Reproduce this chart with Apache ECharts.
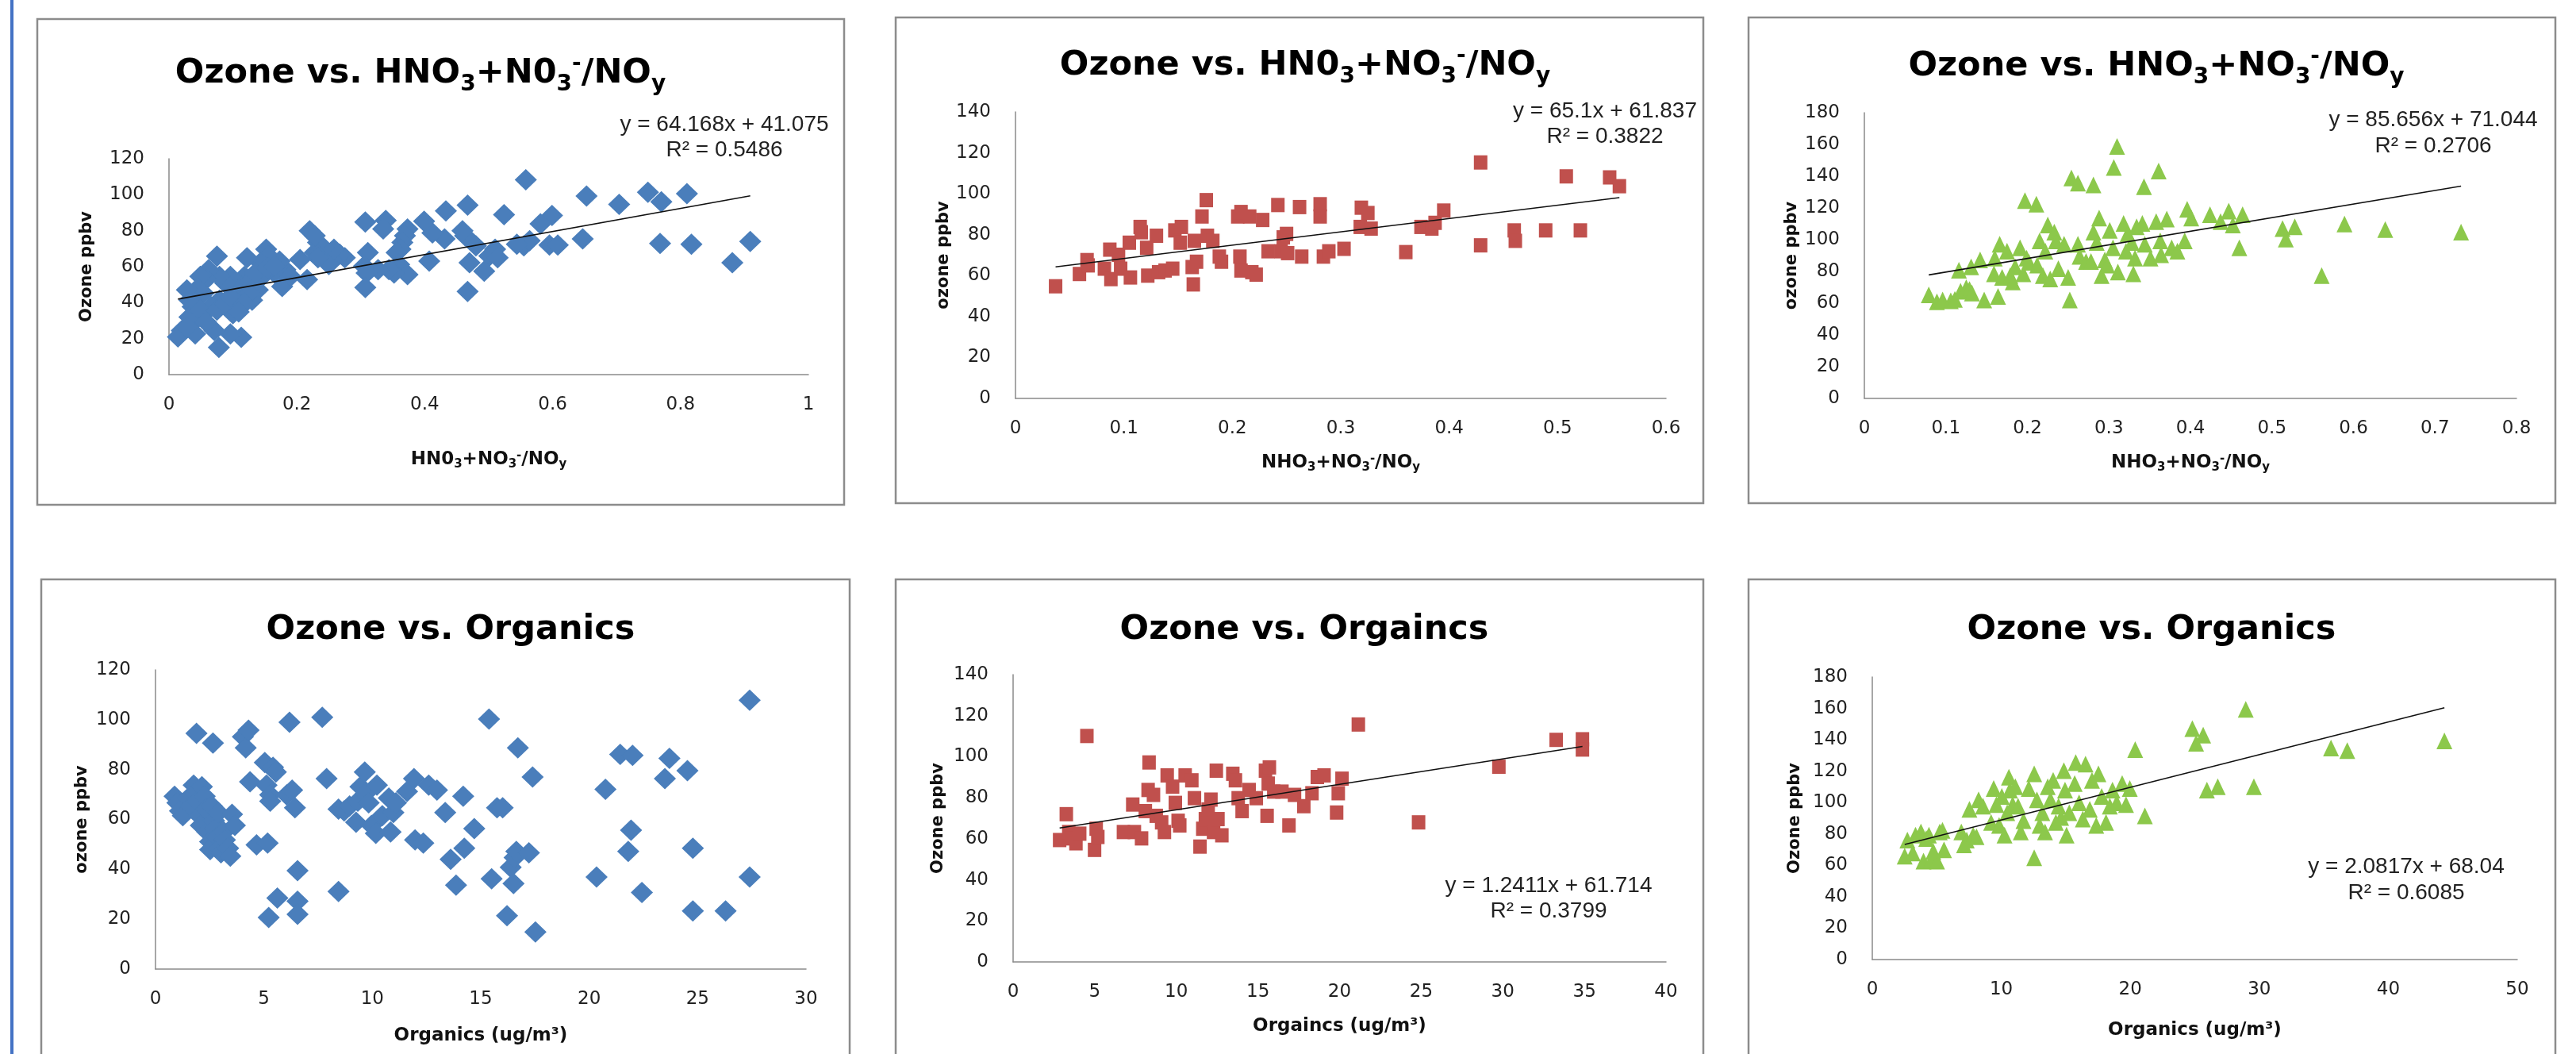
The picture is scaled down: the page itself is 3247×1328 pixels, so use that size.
<!DOCTYPE html>
<html>
<head>
<meta charset="utf-8">
<title>Ozone vs. nitrate fraction and organics</title>
<script src="https://cdn.jsdelivr.net/npm/echarts@6.0.0/dist/echarts.min.js"></script>
<style>
  html, body { margin: 0; padding: 0; background: #fff; }
  #chart { width: 3247px; height: 1328px; }
</style>
</head>
<body>
<div id="chart"></div>
<script>
// site 1 : ozone (ppbv) vs HNO3+NO3-/NOy
const nitrate1 = [
  [0.558,108.3],[0.653,99.3],[0.704,94.6],[0.749,101.4],[0.770,96.1],[0.810,100.6],[0.768,72.9],[0.817,72.5],
  [0.881,62.2],[0.909,74.0],[0.647,75.4],[0.599,88.5],[0.581,83.8],[0.595,72],[0.608,72],[0.555,71.6],
  [0.564,74.4],[0.544,72.5],[0.524,88.9],[0.51,69.7],[0.501,66],[0.514,65],[0.493,57.5],[0.467,94.2],
  [0.467,46.2],[0.470,62.2],[0.463,77.2],[0.459,80],[0.48,71.6],[0.433,91],[0.431,75.4],[0.412,78.8],
  [0.399,85.3],[0.407,63.1],[0.373,81],[0.369,77.2],[0.365,73.5],[0.362,69.7],[0.356,67.8],[0.36,61.2],
  [0.373,55.6],[0.352,56.5],[0.339,85.7],[0.335,81],[0.344,58.4],[0.327,58.4],[0.307,84.8],[0.311,67.8],
  [0.305,60.3],[0.309,56.5],[0.307,48.4],[0.275,65],[0.267,66.9],[0.254,64],[0.25,61.2],[0.258,69.7],
  [0.241,70.6],[0.233,73.5],[0.228,67.8],[0.22,80],[0.228,77.2],[0.233,65],[0.216,52.8],[0.205,64],
  [0.182,58.4],[0.173,63.1],[0.165,56.5],[0.177,49],[0.152,69.7],[0.156,66],[0.143,62.2],[0.146,54.6],
  [0.139,47.1],[0.13,41.4],[0.122,65],[0.118,54.6],[0.113,49],[0.109,43.3],[0.105,37.7],[0.113,20.7],
  [0.096,22.6],[0.1,33.9],[0.096,54.6],[0.088,50.9],[0.079,54.6],[0.079,41.4],[0.075,65.9],[0.078,15.1],
  [0.071,24.5],[0.066,37.7],[0.062,58.4],[0.058,52.8],[0.054,45.2],[0.049,54.6],[0.045,48],[0.041,30.1],
  [0.037,37.7],[0.032,41.4],[0.028,47.1],[0.032,32],[0.041,22.6],[0.02,24.5],[0.014,21],[0.028,26.4],
  [0.049,35.8],[0.058,29.2],[0.075,35.8],[0.088,39.6],[0.096,43.3],[0.126,51.8],[0.135,56.5],[0.154,59.3],
  [0.165,60.3],[0.126,45.2],[0.118,39.6],[0.109,34.9],[0.19,54.6]
];
// site 2
const nitrate2 = [
  [0.037,54.8],[0.059,60.8],[0.066,67.6],[0.067,65],[0.082,63.4],[0.087,72.7],[0.088,58.3],[0.095,70.2],
  [0.097,63.4],[0.105,76.1],[0.106,59.1],[0.115,83.8],[0.116,81.2],[0.121,73.6],[0.122,60],[0.13,79.5],
  [0.132,61.7],[0.138,62.5],[0.145,63.4],[0.147,82.1],[0.153,83.8],[0.152,76.1],[0.163,64.2],[0.164,55.7],
  [0.165,77],[0.167,66.8],[0.172,88.9],[0.176,96.9],[0.177,79.5],[0.182,77],[0.188,69.3],[0.19,66.8],
  [0.205,88.9],[0.208,91.1],[0.207,69.3],[0.208,62.5],[0.216,88.9],[0.218,61.7],[0.222,60.5],[0.228,87.2],
  [0.233,71.9],[0.242,94.5],[0.245,71.9],[0.247,78.7],[0.25,80.4],[0.251,71],[0.262,93.5],[0.264,69.3],
  [0.281,94.9],[0.281,88.9],[0.284,69.3],[0.289,71.9],[0.303,73.1],[0.319,93.2],[0.325,90.6],[0.318,83.8],
  [0.328,83],[0.36,71.5],[0.374,83.8],[0.384,83],[0.387,85.8],[0.395,91.8],[0.429,115.3],[0.429,74.8],
  [0.46,82.1],[0.461,77],[0.489,82.1],[0.508,108.5],[0.521,82.1],[0.548,108],[0.557,103.7]
];
// site 3
const nitrate3 = [
  [0.079,65.3],[0.089,60.9],[0.096,62],[0.106,61.5],[0.111,62.4],[0.116,80.7],[0.118,67.5],[0.125,69.7],
  [0.129,68.6],[0.132,66.4],[0.131,82.9],[0.142,87.3],[0.147,62],[0.159,78.5],[0.16,88.4],[0.164,64.2],
  [0.166,97.1],[0.169,76.3],[0.175,92.7],[0.179,77.4],[0.182,73.4],[0.185,82.9],[0.191,94.9],[0.195,78.5],
  [0.197,124.6],[0.199,88.4],[0.202,85.7],[0.211,122.4],[0.212,84],[0.215,99.3],[0.219,77.4],[0.222,92.7],
  [0.225,109.2],[0.228,75.2],[0.233,104.8],[0.235,99.3],[0.238,81.8],[0.245,97.1],[0.25,76.3],[0.252,62],
  [0.254,138.9],[0.262,135.6],[0.262,97.1],[0.264,89.5],[0.272,86.2],[0.278,86.2],[0.281,134.5],[0.281,104.8],
  [0.288,113.6],[0.285,98.2],[0.291,77.4],[0.295,87.3],[0.298,84],[0.301,105.9],[0.305,94.9],[0.306,145.5],
  [0.31,158.7],[0.311,79.6],[0.318,110.3],[0.321,92.7],[0.323,103.7],[0.328,98.2],[0.33,78.5],[0.332,88.4],
  [0.334,108.1],[0.341,110.3],[0.343,133.4],[0.344,97.1],[0.351,88.4],[0.358,111.4],[0.361,143.3],[0.363,99.3],
  [0.364,90.5],[0.371,113],[0.377,94.9],[0.384,92.7],[0.393,99.3],[0.396,119.1],[0.401,113.6],[0.424,115.8],
  [0.437,111.4],[0.447,118],[0.452,109.2],[0.46,94.9],[0.464,115.8],[0.513,107],[0.517,100.4],[0.528,108.1],
  [0.561,77.4],[0.589,109.9],[0.639,106.4],[0.732,104.8]
];
// site 1 : ozone (ppbv) vs organics (ug/m3)
const organics1 = [
  [0.88,69.3],[1.01,66.7],[1.13,63.4],[1.26,61.5],[1.51,68.6],[1.64,65.4],[1.76,73.8],[1.89,94.5],
  [1.84,70.5],[1.94,67.3],[2.02,61.5],[2.09,57.6],[2.14,73.1],[2.27,69.3],[2.34,64.1],[2.39,55],
  [2.52,51.1],[2.52,47.9],[2.6,65.4],[2.65,90.6],[2.7,59.5],[2.77,56.3],[2.85,53.1],[2.9,62.8],
  [2.95,48.5],[3.02,46.6],[3.15,55],[3.2,51.8],[3.35,48.5],[3.45,45.3],[3.53,62.1],[3.66,57.6],
  [4.03,93.2],[4.16,88.7],[4.29,95.8],[4.36,75.1],[4.66,49.8],[5.04,82.8],[5.12,73.8],[5.17,50.5],
  [5.22,20.7],[5.29,69.9],[5.29,67.3],[5.42,80.9],[5.55,79],[5.62,28.5],[6.18,99],[6.05,69.9],
  [6.3,71.8],[6.43,64.7],[6.55,39.5],[6.55,27.2],[6.55,22],[7.69,101],[7.89,76.4],[8.44,31.1],
  [8.44,64.1],[8.7,63.4],[8.95,65.4],[9.25,58.9],[9.33,67.3],[9.45,73.1],[9.65,79],[9.7,70.5],
  [9.83,66.7],[9.96,57.6],[10.16,54.4],[10.21,73.8],[10.46,61.5],[10.76,68.6],[10.84,55],[10.97,62.8],
  [11.09,66.7],[11.6,71.2],[11.92,76.4],[11.97,51.8],[12.35,50.5],[12.6,73.8],[12.98,71.8],[13.36,62.8],
  [13.61,44],[13.86,33.7],[14.19,69.3],[14.24,48.5],[14.7,56.3],[15.38,100.3],[15.5,36.2],[15.75,64.7],
  [16.01,64.7],[16.21,21.4],[16.38,40.8],[16.51,34.3],[16.56,44.7],[16.64,47.2],[16.71,88.7],[17.22,46.6],
  [17.39,77],[17.52,14.9],[20.34,36.9],[20.75,72.1],[21.43,86.1],[22,85.7],[21.8,47.2],[21.93,55.7],
  [22.43,30.7],[23.49,76.4],[23.7,84.5],[24.53,79.6],[24.78,48.5],[24.78,23.3],[26.29,23.3],[27.4,107.8],
  [27.4,36.9]
];
// site 2
const organics2 = [
  [2.85,59.4],[3.26,72],[3.41,63.3],[3.58,60.2],[3.85,57.8],[4.08,62.5],[4.52,110.1],[4.99,54.6],
  [5.09,64.9],[5.19,60.9],[6.76,63.3],[7.33,76.7],[7.43,63.3],[7.87,60.2],[8.1,73.5],[8.27,83.8],
  [8.33,97.2],[8.6,81.4],[8.77,71.2],[9.1,68],[9.27,63.3],[9.44,90.9],[9.77,85.4],[9.94,77.5],
  [10.11,68.8],[10.21,66.5],[10.54,90.9],[10.95,88.5],[11.11,79.8],[11.45,56.2],[11.62,64.9],[11.78,69.6],
  [11.95,74.3],[12.12,79.1],[12.28,63.3],[12.45,93.2],[12.55,69.6],[12.79,61.7],[13.46,91.7],[13.62,88.5],
  [13.79,79.8],[14.03,73.5],[14.46,83.8],[14.9,79.8],[15.46,93.2],[15.63,86.9],[15.7,94.8],[15.56,71.2],
  [15.97,83],[16.47,83],[16.9,66.5],[17.24,81.4],[17.81,75.9],[18.31,82.2],[18.64,90.1],[19.05,90.9],
  [19.82,72.8],[19.92,82.2],[20.15,89.3],[21.15,115.7],[24.84,68],[29.76,95.1],[33.27,108.2],[34.88,108.5],
  [34.88,103.5]
];
// site 3
const organics3 = [
  [2.51,65.8],[2.72,76.1],[3.14,67.9],[3.35,79.2],[3.77,81.3],[3.97,62.7],[4.18,77.1],[4.39,79.2],
  [4.6,63.8],[4.73,68.9],[5.02,62.7],[5.23,81.3],[5.44,82.3],[5.56,69.9],[6.9,81.3],[7.11,73],
  [7.32,76.1],[7.53,95.7],[7.82,79.2],[8.08,78.2],[8.24,101.8],[8.58,97.7],[9.21,87.4],[9.41,109],
  [9.62,98.7],[9.83,85.4],[10.04,103.9],[10.25,79.2],[10.46,93.6],[10.59,116.2],[10.67,108],[10.88,98.7],
  [11.09,110.1],[11.3,97.7],[11.51,81.3],[11.72,88.5],[12.13,109],[12.55,118.3],[12.55,64.8],[12.76,101.8],
  [12.97,85.4],[13.18,93.6],[13.39,81.3],[13.6,110.1],[13.81,101.8],[14.02,114.2],[14.23,87.4],[14.44,97.7],
  [14.64,90.5],[14.85,120.3],[14.94,108],[15.06,79.2],[15.27,93.6],[15.69,112.1],[15.77,125.5],[16.03,99.8],
  [16.32,89.5],[16.53,124.5],[16.86,95.7],[17.03,114.2],[17.36,85.4],[17.53,118.3],[17.78,103.9],[18.12,87.4],
  [18.41,97.7],[18.62,108],[18.95,99.8],[19.37,112.1],[19.67,98.7],[19.96,109],[20.38,133.7],[21.13,91.5],
  [24.81,147.1],[25.1,137.8],[25.65,143],[25.94,108],[26.78,110.1],[28.95,159.4],[29.58,110.1],[35.56,134.7],
  [36.82,133.1],[44.35,139.3]
];

// linear trend lines (end points of the fitted lines in the picture)
const trend1 = [[0.014, 41.97], [0.909, 99.40]];
const trend2 = [[0.037, 64.25], [0.557, 98.10]];
const trend3 = [[0.079, 77.81], [0.732, 133.74]];
const trend5 = [[2.85, 65.25], [34.88, 105.00]];
const trend6 = [[2.51, 73.27], [44.35, 160.36]];

const eq1 = ['y = 64.168x + 41.075', 'R² = 0.5486'];
const eq2 = ['y = 65.1x + 61.837', 'R² = 0.3822'];
const eq3 = ['y = 85.656x + 71.044', 'R² = 0.2706'];
const eq5 = ['y = 1.2411x + 61.714', 'R² = 0.3799'];
const eq6 = ['y = 2.0817x + 68.04', 'R² = 0.6085'];

const FONT = 'DejaVu Sans';
const BLUE = '#4A7EBB', RED = '#C0504D', GREEN = '#8CC84B';

const panels = [
  {pts: nitrate1, trend: trend1, eq: eq1, symbol: 'diamond', size: [28, 27], color: BLUE,
   grid: [213, 200, 806, 272], xMax: 1, xStep: 0.2, yMax: 120, yStep: 20,
   title: '{m|Ozone vs. HNO}{s|3}{m|+N0}{s|3}{p|-}{m|/NO}{s|y}', titleAt: [530, 90],
   xName: '{m|HN0}{s|3}{m|+NO}{s|3}{p|-}{m|/NO}{s|y}', xGap: 92,
   yName: 'Ozone ppbv', yGap: 93, eqAt: [913, 157, 189], box: [47, 24, 1017, 612]},
  {pts: nitrate2, trend: trend2, eq: eq2, symbol: 'rect', size: [17, 18], color: RED,
   grid: [1280, 141, 820, 361], xMax: 0.6, xStep: 0.1, yMax: 140, yStep: 20,
   title: '{m|Ozone vs. HN0}{s|3}{m|+NO}{s|3}{p|-}{m|/NO}{s|y}', titleAt: [1645, 80],
   xName: '{m|NHO}{s|3}{m|+NO}{s|3}{p|-}{m|/NO}{s|y}', xGap: 66,
   yName: 'ozone ppbv', yGap: 80, eqAt: [2023, 140, 172], box: [1129, 22, 1018, 612]},
  {pts: nitrate3, trend: trend3, eq: eq3, symbol: 'triangle', size: [20, 21], color: GREEN,
   grid: [2350, 142, 822, 360], xMax: 0.8, xStep: 0.1, yMax: 180, yStep: 20,
   title: '{m|Ozone vs. HNO}{s|3}{m|+NO}{s|3}{p|-}{m|/NO}{s|y}', titleAt: [2718, 81],
   xName: '{m|NHO}{s|3}{m|+NO}{s|3}{p|-}{m|/NO}{s|y}', xGap: 66,
   yName: 'ozone ppbv', yGap: 81, eqAt: [3067, 151, 184], box: [2204, 22, 1017, 612]},
  {pts: organics1, trend: null, eq: null, symbol: 'diamond', size: [28, 27], color: BLUE,
   grid: [196, 844, 820, 377], xMax: 30, xStep: 5, yMax: 120, yStep: 20,
   title: '{m|Ozone vs. Organics}', titleAt: [568, 791],
   xName: '{m|Organics (ug/m³)}', xGap: 69,
   yName: 'ozone ppbv', yGap: 82, eqAt: null, box: [52, 730, 1019, 700]},
  {pts: organics2, trend: trend5, eq: eq5, symbol: 'rect', size: [17, 18], color: RED,
   grid: [1277, 850, 823, 362], xMax: 40, xStep: 5, yMax: 140, yStep: 20,
   title: '{m|Ozone vs. Orgaincs}', titleAt: [1644, 791],
   xName: '{m|Orgaincs (ug/m³)}', xGap: 66,
   yName: 'Ozone ppbv', yGap: 84, eqAt: [1952, 1116, 1148], box: [1129, 730, 1018, 700]},
  {pts: organics3, trend: trend6, eq: eq6, symbol: 'triangle', size: [20, 21], color: GREEN,
   grid: [2360, 853, 813, 356], xMax: 50, xStep: 10, yMax: 180, yStep: 20,
   title: '{m|Ozone vs. Organics}', titleAt: [2712, 791],
   xName: '{m|Organics (ug/m³)}', xGap: 74,
   yName: 'Ozone ppbv', yGap: 87, eqAt: [3033, 1092, 1125], box: [2204, 730, 1017, 700]}
];

const titleRich = {
  m: {fontFamily: FONT, fontWeight: 'bold', fontSize: 43, lineHeight: 60, color: '#000'},
  s: {fontFamily: FONT, fontWeight: 'bold', fontSize: 28, lineHeight: 30, color: '#000',
      verticalAlign: 'bottom', padding: [0, 0, 2, 0]},
  p: {fontFamily: FONT, fontWeight: 'bold', fontSize: 28, lineHeight: 28, color: '#000',
      verticalAlign: 'top', padding: [4, 0, 0, 0]}
};
const nameRich = {
  m: {fontFamily: FONT, fontWeight: 'bold', fontSize: 23, lineHeight: 30, color: '#111'},
  s: {fontFamily: FONT, fontWeight: 'bold', fontSize: 15, lineHeight: 16, color: '#111',
      verticalAlign: 'bottom', padding: [0, 0, 1, 0]},
  p: {fontFamily: FONT, fontWeight: 'bold', fontSize: 15, lineHeight: 15, color: '#111',
      verticalAlign: 'top', padding: [3, 0, 0, 0]}
};

const axisStyle = {
  axisLine: {show: true, lineStyle: {color: '#8a8a8a', width: 1.5}},
  axisTick: {show: false},
  splitLine: {show: false}
};

const option = {
  animation: false,
  backgroundColor: '#fff',
  title: [], grid: [], xAxis: [], yAxis: [], series: [],
  graphic: [
    {type: 'rect', shape: {x: 13, y: 0, width: 4, height: 1328}, style: {fill: '#4472C4'}}
  ]
};

panels.forEach((p, i) => {
  option.graphic.push({
    type: 'rect', z: -1,
    shape: {x: p.box[0], y: p.box[1], width: p.box[2], height: p.box[3]},
    style: {fill: 'none', stroke: '#8c8c8c', lineWidth: 2.5}
  });
  option.title.push({
    text: p.title, left: p.titleAt[0], top: p.titleAt[1] - 27, textAlign: 'center', padding: 0,
    textStyle: {rich: titleRich}
  });
  option.grid.push({left: p.grid[0], top: p.grid[1], width: p.grid[2], height: p.grid[3]});
  option.xAxis.push(Object.assign({
    type: 'value', gridIndex: i, min: 0, max: p.xMax, interval: p.xStep,
    name: p.xName, nameLocation: 'middle', nameGap: p.xGap,
    nameTextStyle: {rich: nameRich},
    axisLabel: {fontFamily: FONT, fontSize: 23, color: '#222', margin: 27}
  }, axisStyle));
  option.yAxis.push(Object.assign({
    type: 'value', gridIndex: i, min: 0, max: p.yMax, interval: p.yStep,
    name: p.yName, nameLocation: 'middle', nameGap: p.yGap,
    nameTextStyle: {fontFamily: FONT, fontWeight: 'bold', fontSize: 21, color: '#111'},
    axisLabel: {fontFamily: FONT, fontSize: 23, color: '#222', margin: 31}
  }, axisStyle));
  option.series.push({
    type: 'scatter', xAxisIndex: i, yAxisIndex: i, data: p.pts,
    symbol: p.symbol, symbolSize: p.size, itemStyle: {color: p.color, opacity: 1}, z: 2
  });
  if (p.trend) {
    option.series.push({
      type: 'line', xAxisIndex: i, yAxisIndex: i, data: p.trend, symbol: 'none', silent: true,
      lineStyle: {color: '#111', width: 1.6}, z: 3
    });
  }
  if (p.eq) {
    p.eq.forEach((t, k) => {
      option.graphic.push({
        type: 'text', x: p.eqAt[0], y: p.eqAt[1 + k],
        style: {text: t, fill: '#222', font: '28px "Liberation Sans"',
                align: 'center', verticalAlign: 'middle',
                textAlign: 'center', textVerticalAlign: 'middle'}
      });
    });
  }
});

const myChart = echarts.init(document.getElementById('chart'));
myChart.setOption(option);
</script>
</body>
</html>
